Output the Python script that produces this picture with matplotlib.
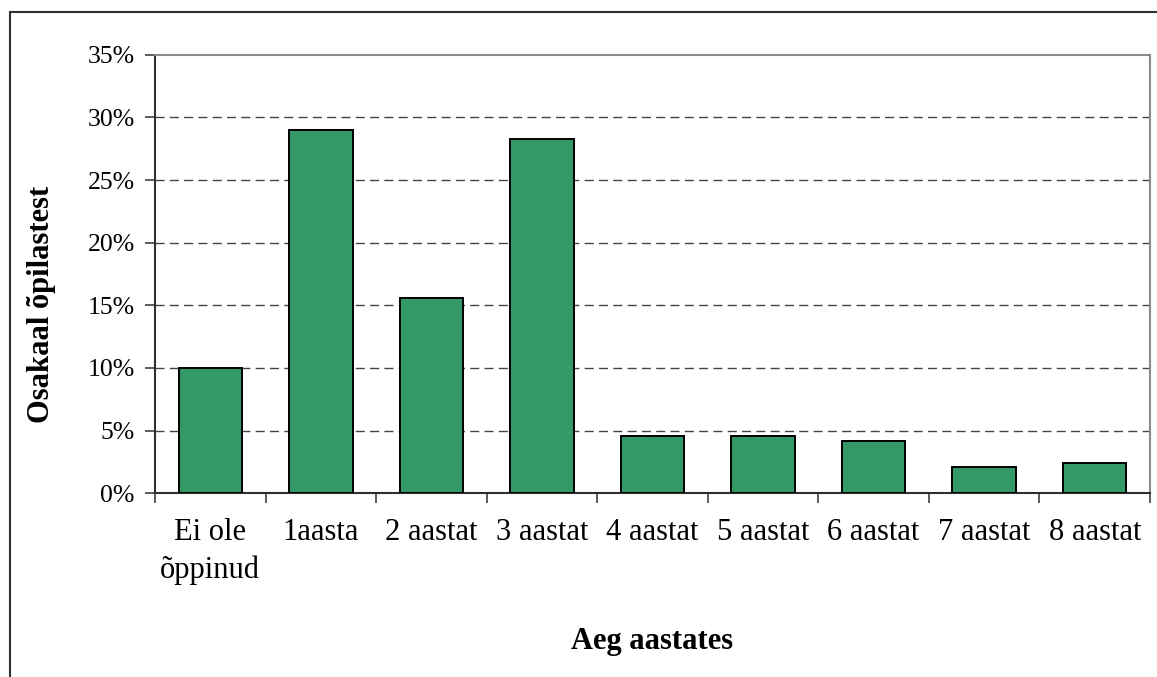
import numpy as np
import matplotlib.pyplot as plt
from matplotlib.patches import Rectangle

plt.rcParams['font.family'] = ['Liberation Serif', 'DejaVu Serif']
plt.rcParams['lines.scale_dashes'] = False

categories = ['Ei ole\nõppinud', '1aasta', '2 aastat', '3 aastat', '4 aastat',
              '5 aastat', '6 aastat', '7 aastat', '8 aastat']
shares = [10.0, 29.0, 15.6, 28.3, 4.6, 4.6, 4.2, 2.1, 2.4]   # percent
yticks = [0, 5, 10, 15, 20, 25, 30, 35]

W, H = 1157, 677
fig = plt.figure(figsize=(W / 100, H / 100), dpi=100)
ax = fig.add_axes([155 / W, 1 - 493.3 / H, (1150 - 155) / W, (493.3 - 54.7) / H])

# outer chart frame (only top and left edge fall inside the image)
fig.patches.append(Rectangle((10 / W, -0.5), 1.5, 1.5 - 12 / H, transform=fig.transFigure,
                             fill=False, edgecolor='#303030', linewidth=1.5))

x = np.arange(len(categories))
ax.bar(x, shares, width=0.573, color='#339966', edgecolor='black', linewidth=1.4, zorder=3)

ax.set_xlim(-0.5, len(categories) - 0.5)
ax.set_ylim(0, 35)
ax.set_yticks(yticks)
ax.set_yticklabels([f'{v}%' for v in yticks], fontsize=18.5)
for v in yticks[1:-1]:
    ax.axhline(v, color='#444444', linewidth=1.0, linestyle=(0, (6.5, 3.8)), zorder=1)

# category labels in the middle, tick marks on the boundaries
ax.set_xticks(x)
ax.set_xticklabels(categories, fontsize=22, linespacing=1.35)
ax.tick_params(axis='x', which='major', length=0, pad=18)
ax.set_xticks(np.arange(-0.5, len(categories)), minor=True)
ax.tick_params(axis='x', which='minor', length=7.5, width=1.1, color='#303030', direction='out')
ax.tick_params(axis='y', length=7.5, width=1.1, color='#303030', direction='out', pad=7)

ax.spines['left'].set_color('#303030')
ax.spines['bottom'].set_color('#303030')
ax.spines['left'].set_linewidth(1.5)
ax.spines['bottom'].set_linewidth(1.5)
ax.spines['top'].set_color('#8a8a8a')
ax.spines['right'].set_color('#8a8a8a')
ax.spines['top'].set_linewidth(1.5)
ax.spines['right'].set_linewidth(1.5)

fig.text(42 / W, 1 - 304 / H, 'Osakaal õpilastest', rotation=90, fontsize=22,
         fontweight='bold', ha='center', va='center')
fig.text(652 / W, 1 - 642 / H, 'Aeg aastates', fontsize=22, fontweight='bold',
         ha='center', va='center')

fig.savefig('out.png', dpi=100, facecolor='white')
